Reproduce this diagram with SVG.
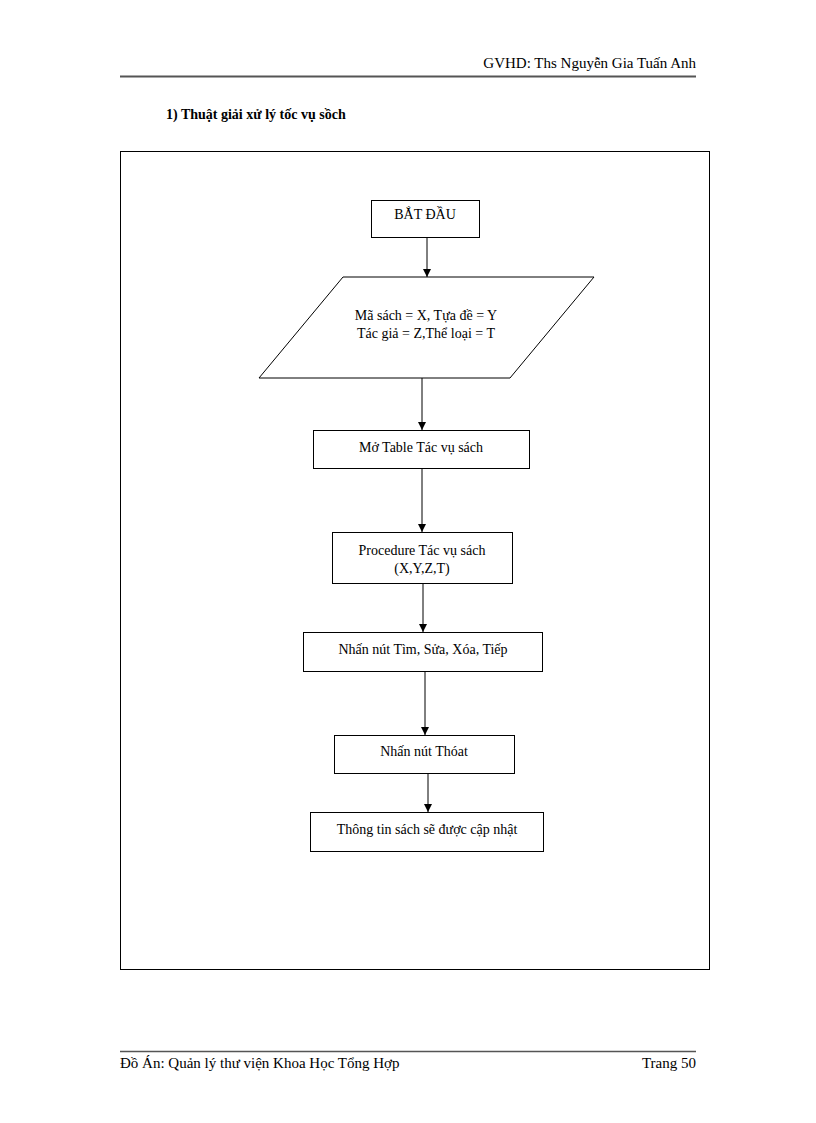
<svg xmlns="http://www.w3.org/2000/svg" width="816" height="1123" viewBox="0 0 816 1123">
<defs>
<style>
text{font-family:"Liberation Serif","Times New Roman",serif;font-size:14px;fill:#000}
.c{text-anchor:middle}
.n{fill:#fff;stroke:#000;stroke-width:1}
.e{stroke:#000;stroke-width:1;fill:none;marker-end:url(#a)}
</style>
<marker id="a" viewBox="0 0 10 10" refX="10" refY="5" markerWidth="8" markerHeight="8" markerUnits="userSpaceOnUse" orient="auto"><path d="M0,0L10,5L0,10z" fill="#000"/></marker>
</defs>
<rect width="816" height="1123" fill="#fff"/>
<text x="696" y="68" text-anchor="end" style="font-size:15px">GVHD: Ths Nguyễn Gia Tuấn Anh</text>
<line x1="120" y1="76.5" x2="696" y2="76.5" stroke="#555" stroke-width="2"/>
<text x="166" y="119" style="font-weight:bold">1)  Thuật  giải xử lý tốc vụ sồch</text>
<rect x="120.5" y="151.5" width="589" height="818" fill="none" stroke="#000"/>
<g id="connectors">
<line class="e" x1="427" y1="237" x2="427" y2="277"/>
<line class="e" x1="422" y1="378" x2="422" y2="430"/>
<line class="e" x1="422" y1="468" x2="422" y2="532"/>
<line class="e" x1="423" y1="583" x2="423" y2="632"/>
<line class="e" x1="425" y1="671" x2="425" y2="735"/>
<line class="e" x1="428" y1="773" x2="428" y2="812"/>
</g>
<g id="start"><rect class="n" x="371.5" y="200.5" width="108" height="37"/><text class="c" x="425" y="219">BẮT ĐẦU</text></g>
<g id="input"><polygon class="n" points="343,277 594,277 510,378 259,378"/><text class="c" x="426" y="320">Mã sách = X, Tựa đề = Y</text><text class="c" x="426" y="338">Tác giả = Z,Thể  loại = T</text></g>
<g id="open"><rect class="n" x="313.5" y="430.5" width="216" height="38"/><text class="c" x="421" y="452">Mở Table Tác vụ sách</text></g>
<g id="proc"><rect class="n" x="332.5" y="532.5" width="180" height="51"/><text class="c" x="422" y="555">Procedure Tác vụ sách</text><text class="c" x="422" y="573">(X,Y,Z,T)</text></g>
<g id="btn"><rect class="n" x="303.5" y="632.5" width="239" height="39"/><text class="c" x="423" y="654">Nhấn nút Tìm,  Sửa, Xóa, Tiếp</text></g>
<g id="exit"><rect class="n" x="334.5" y="735.5" width="180" height="38"/><text class="c" x="424" y="756">Nhấn nút  Thóat</text></g>
<g id="end"><rect class="n" x="310.5" y="812.5" width="233" height="39"/><text class="c" x="427" y="834">Thông  tin  sách sẽ được cập nhật</text></g>
<line x1="120" y1="1051.5" x2="696" y2="1051.5" stroke="#555" stroke-width="1.5"/>
<text x="120" y="1068" style="font-size:15px">Đồ Án: Quản lý thư viện Khoa Học Tổng Hợp</text>
<text x="696" y="1068" text-anchor="end" style="font-size:15px">Trang  50</text>
</svg>
